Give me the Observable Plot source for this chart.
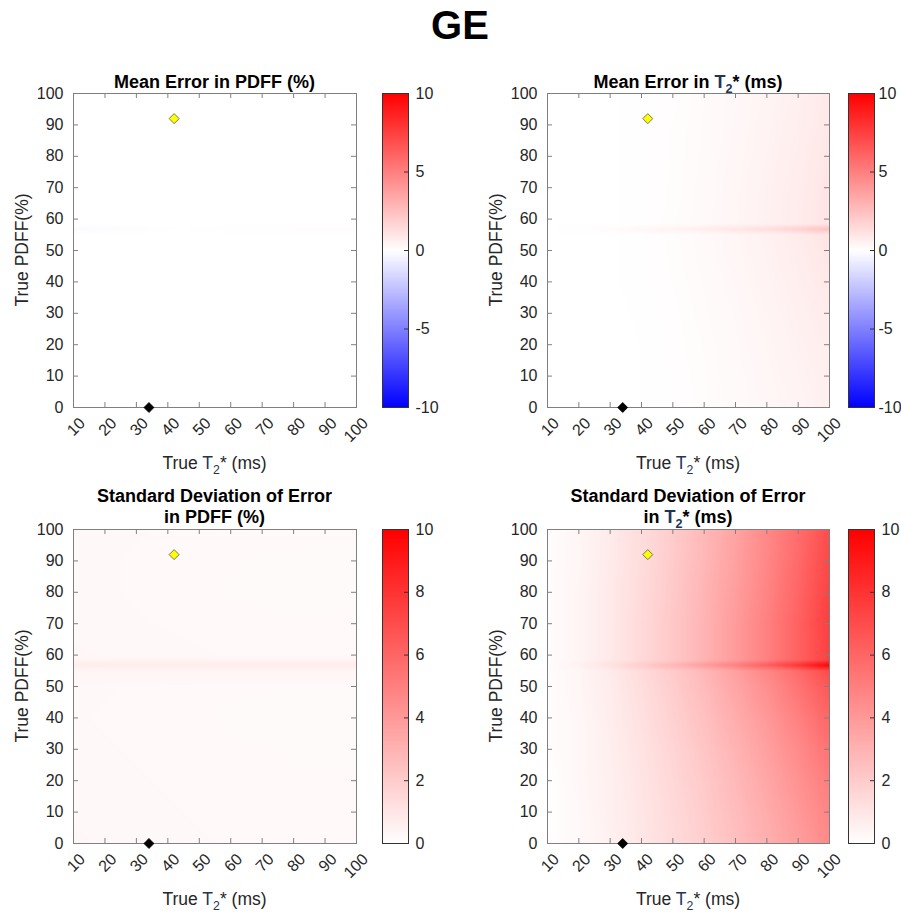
<!DOCTYPE html>
<html><head><meta charset="utf-8">
<script src="https://cdn.jsdelivr.net/npm/d3@7"></script>
<script src="https://cdn.jsdelivr.net/npm/@observablehq/plot@0.6"></script>
<style>
body{margin:0;background:#fff;}
#root{position:relative;width:901px;height:913px;overflow:hidden;font-family:"Liberation Sans",Arial,Helvetica,sans-serif;}
</style></head><body><div id="root"></div>
<script>
// ---- data ----
const t2Values = [10, 20, 30, 40, 50, 60, 70, 80, 90, 100];           // True T2* (ms), columns
const pdffRows = [0, 10, 20, 30, 40, 50, 55, 56.8, 58.5, 60, 70, 80, 90, 100]; // True PDFF (%), rows
const xTicks = [10, 20, 30, 40, 50, 60, 70, 80, 90, 100];
const yTicks = [0, 10, 20, 30, 40, 50, 60, 70, 80, 90, 100];
const meanTicks = [-10, -5, 0, 5, 10];
const sdTicks = [0, 2, 4, 6, 8, 10];

// Mean error in PDFF (%)
const meanPdffError = [
  [0,0,0,0,0,0,0,0,0,0],
  [0,0,0,0,0,0,0,0,0,0],
  [0,0,0,0,0,0,0,0,0,0],
  [0,0,0,0,0,0,0,0,0,0],
  [0,0,0,0,0,0,0,0,0,0],
  [0,0,0,0,0,0,0,0,0,0],
  [0,0,0,0,0,0,0,0,0,0],
  [-0.15,-0.12,-0.08,-0.03,0.03,0.06,0.08,0.1,0.12,0.14],
  [0,0,0,0,0,0,0,0,0,0],
  [0,0,0,0,0,0,0,0,0,0],
  [0,0,0,0,0,0,0,0,0,0],
  [0,0,0,0,0,0,0,0,0,0],
  [0,0,0,0,0,0,0,0,0,0],
  [0,0,0,0,0,0,0,0,0,0]
];
// Mean error in T2* (ms)
const meanT2Error = [
  [0,0,0,0.02,0.06,0.12,0.2,0.31,0.44,0.6],
  [0,0,0,0.02,0.06,0.13,0.22,0.34,0.48,0.64],
  [0,0,0,0.02,0.07,0.14,0.24,0.37,0.53,0.7],
  [0,0,0,0.03,0.08,0.16,0.26,0.41,0.58,0.77],
  [0,0,0.01,0.04,0.1,0.18,0.3,0.46,0.65,0.86],
  [0,0,0.01,0.05,0.11,0.2,0.34,0.5,0.72,0.98],
  [0,0,0.01,0.05,0.12,0.22,0.36,0.54,0.77,1.05],
  [0,0.05,0.15,0.3,0.48,0.7,0.97,1.3,1.75,2.4],
  [0,0,0.01,0.05,0.12,0.22,0.36,0.54,0.77,1.05],
  [0,0,0.01,0.05,0.12,0.22,0.36,0.54,0.77,1.05],
  [0,0,0.01,0.05,0.11,0.2,0.35,0.53,0.74,1.02],
  [0,0,0.01,0.04,0.1,0.19,0.32,0.49,0.7,0.96],
  [0,0,0.01,0.04,0.1,0.18,0.3,0.46,0.65,0.9],
  [0,0,0.01,0.04,0.08,0.17,0.28,0.43,0.6,0.84]
];
// Standard deviation of error in PDFF (%)
const sdPdffError = [
  [0.3,0.29,0.28,0.27,0.26,0.25,0.25,0.24,0.24,0.24],
  [0.29,0.28,0.27,0.26,0.25,0.24,0.24,0.23,0.23,0.23],
  [0.28,0.27,0.26,0.25,0.24,0.23,0.23,0.22,0.22,0.22],
  [0.27,0.26,0.25,0.24,0.23,0.22,0.22,0.21,0.21,0.21],
  [0.26,0.25,0.24,0.23,0.22,0.21,0.2,0.19,0.19,0.19],
  [0.27,0.26,0.25,0.24,0.23,0.22,0.22,0.21,0.21,0.21],
  [0.38,0.38,0.38,0.38,0.38,0.38,0.38,0.38,0.38,0.38],
  [0.7,0.72,0.74,0.75,0.75,0.75,0.75,0.75,0.75,0.75],
  [0.38,0.38,0.38,0.38,0.38,0.38,0.38,0.38,0.38,0.38],
  [0.3,0.29,0.28,0.27,0.26,0.25,0.25,0.24,0.24,0.24],
  [0.28,0.27,0.26,0.25,0.24,0.23,0.23,0.22,0.22,0.22],
  [0.27,0.26,0.25,0.24,0.22,0.21,0.2,0.19,0.19,0.19],
  [0.27,0.26,0.25,0.24,0.23,0.22,0.21,0.21,0.2,0.2],
  [0.28,0.27,0.26,0.25,0.24,0.24,0.23,0.23,0.23,0.23]
];
// Standard deviation of error in T2* (ms)
const sdT2Error = [
  [0.05,0.25,0.55,0.95,1.4,1.9,2.5,3.1,3.8,4.6],
  [0.05,0.25,0.6,1.0,1.45,2.0,2.6,3.25,4.0,4.8],
  [0.05,0.3,0.6,1.05,1.55,2.1,2.75,3.45,4.25,5.1],
  [0.1,0.3,0.65,1.1,1.65,2.25,2.95,3.7,4.55,5.5],
  [0.1,0.3,0.7,1.2,1.8,2.45,3.2,4.0,4.95,6.0],
  [0.1,0.35,0.75,1.3,1.95,2.65,3.5,4.4,5.45,6.6],
  [0.1,0.35,0.8,1.4,2.05,2.8,3.7,4.7,5.8,7.1],
  [0.1,0.5,1.15,1.95,2.85,3.85,5.0,6.3,7.9,9.8],
  [0.1,0.4,0.85,1.45,2.15,2.95,3.9,4.95,6.15,7.5],
  [0.1,0.4,0.85,1.45,2.15,2.95,3.9,4.95,6.15,7.5],
  [0.1,0.4,0.85,1.45,2.15,2.95,3.9,4.95,6.15,7.6],
  [0.1,0.4,0.85,1.4,2.1,2.9,3.8,4.8,6.0,7.4],
  [0.1,0.35,0.8,1.35,2.05,2.8,3.7,4.7,5.85,7.2],
  [0.1,0.35,0.8,1.35,2.0,2.75,3.6,4.6,5.7,7.0]
];
// diamond markers
const markerNames = ["yellow", "black"];
const markerT2 = [42, 34];
const markerPdff = [92, 0];

// ---- drawing ----
const root = document.getElementById("root");
const fontFamily = '"Liberation Sans", Arial, Helvetica, sans-serif';
const axisGrey = "#808080";
const textCol = "#262626";
const navy = "#1f3556";

const meanColor = {type: "linear", domain: [-10, 0, 10], range: ["#0000ff", "#ffffff", "#ff0000"], interpolate: "rgb"};
const sdColor = {type: "linear", domain: [0, 10], range: ["#ffffff", "#ff0000"], interpolate: "rgb"};

const markers = markerNames.map((name, i) => ({name, t2: markerT2[i], pdff: markerPdff[i]}));

function place(node, left, top) {
  node.style.position = "absolute";
  node.style.left = left + "px";
  node.style.top = top + "px";
  root.appendChild(node);
}

function heatPanel(grid, colorOpts, plotLeft, plotTop, W, H) {
  const ML = 60, MR = 20, MT = 10, MB = 60;
  const pts = pdffRows.flatMap((p, i) => t2Values.map((t, j) => ({t2: t, pdff: p, v: grid[i][j]})));
  const svg = Plot.plot({
    width: ML + W + MR, height: MT + H + MB,
    marginLeft: ML, marginRight: MR, marginTop: MT, marginBottom: MB,
    style: {fontFamily, fontSize: "16px", color: textCol, background: "transparent", overflow: "visible"},
    x: {domain: [10, 100], label: null},
    y: {domain: [0, 100], label: null},
    color: colorOpts,
    marks: [
      Plot.raster(pts, {x: "t2", y: "pdff", fill: "v", interpolate: "barycentric", x1: 10, x2: 100, y1: 0, y2: 100}),
      Plot.tickX(xTicks, {x: d => d, insetTop: H - 5, stroke: axisGrey}),
      Plot.tickX(xTicks, {x: d => d, insetBottom: H - 5, stroke: axisGrey}),
      Plot.tickY(yTicks, {y: d => d, insetRight: W - 5, stroke: axisGrey}),
      Plot.tickY(yTicks, {y: d => d, insetLeft: W - 5, stroke: axisGrey}),
      Plot.frame({stroke: axisGrey}),
      Plot.axisX({ticks: xTicks, tickSize: 0, tickRotate: -45, tickPadding: 13, dx: 9, tickFormat: d => String(d), label: null}),
      Plot.axisY({ticks: yTicks, tickSize: 0, tickPadding: 10, tickFormat: d => String(d), label: null}),
      Plot.dot(markers, {x: "t2", y: "pdff", symbol: "diamond2", r: 4.5,
        fill: d => d.name === "yellow" ? "#ffff00" : "#000000",
        stroke: d => d.name === "yellow" ? "#555555" : "#000000", strokeWidth: 0.8})
    ]
  });
  place(svg, plotLeft - ML, plotTop - MT);
}

function colorbar(colorOpts, domain, ticks, left, top, H, pad) {
  const W = 26, ML = 1, MR = 45, MT = 10, MB = 10;
  const svg = Plot.plot({
    width: ML + W + MR, height: MT + H + MB,
    marginLeft: ML, marginRight: MR, marginTop: MT, marginBottom: MB,
    style: {fontFamily, fontSize: "16px", color: textCol, background: "transparent", overflow: "visible"},
    x: {domain: [0, 1], axis: null},
    y: {domain, label: null},
    color: colorOpts,
    marks: [
      Plot.raster({fill: (x, y) => y, x1: 0, x2: 1, y1: domain[0], y2: domain[1]}),
      Plot.tickY(ticks, {y: d => d, insetLeft: W - 4, stroke: "#333"}),
      Plot.frame({stroke: "#333"}),
      Plot.axisY({anchor: "right", ticks, tickSize: 0, tickPadding: pad, tickFormat: d => String(d), label: null})
    ]
  });
  place(svg, left - ML, top - MT);
}

const H = 314;
const rows = [93, 529];
heatPanel(meanPdffError, meanColor, 73, rows[0], 283, H);
colorbar(meanColor, [-10, 10], meanTicks, 382, rows[0], H, 7);
heatPanel(meanT2Error, meanColor, 547, rows[0], 282, H);
colorbar(meanColor, [-10, 10], meanTicks, 848, rows[0], H, 4);
heatPanel(sdPdffError, sdColor, 73, rows[1], 283, H);
colorbar(sdColor, [0, 10], sdTicks, 382, rows[1], H, 7);
heatPanel(sdT2Error, sdColor, 547, rows[1], 282, H);
colorbar(sdColor, [0, 10], sdTicks, 848, rows[1], H, 7);

// ---- text overlay ----
const ov = d3.select(root).append("svg")
  .attr("width", 901).attr("height", 913)
  .style("position", "absolute").style("left", "0px").style("top", "0px")
  .style("pointer-events", "none")
  .style("font-family", fontFamily);

ov.append("text").attr("x", 460).attr("y", 39).attr("text-anchor", "middle")
  .attr("font-size", 40).attr("font-weight", "bold").attr("fill", "#000").text("GE");

function t2Text(sel, size, color) {
  sel.append("tspan").attr("fill", navy).text("T");
  sel.append("tspan").attr("fill", navy).attr("font-size", size * 0.7).attr("dy", size * 0.28).text("2");
  sel.append("tspan").attr("dy", -size * 0.28).attr("fill", color).text("*");
}

function title(cx, y, parts) {
  const t = ov.append("text").attr("x", cx).attr("y", y).attr("text-anchor", "middle")
    .attr("font-size", 18).attr("font-weight", "bold").attr("fill", "#000");
  parts.forEach(p => p === "T2" ? t2Text(t, 18, "#000") : t.append("tspan").text(p));
}
title(214.5, 88, ["Mean Error in PDFF (%)"]);
title(688, 88, ["Mean Error in ", "T2", " (ms)"]);
title(214.5, 502, ["Standard Deviation of Error"]);
title(214.5, 523, ["in PDFF (%)"]);
title(688, 502, ["Standard Deviation of Error"]);
title(688, 523, ["in ", "T2", " (ms)"]);

function xLabel(cx, y) {
  const t = ov.append("text").attr("x", cx).attr("y", y).attr("text-anchor", "middle")
    .attr("font-size", 17.5).attr("fill", textCol);
  t.append("tspan").text("True ");
  t2Text(t, 17.5, textCol);
  t.append("tspan").text(" (ms)");
}
xLabel(214.5, 469); xLabel(688, 469); xLabel(214.5, 905); xLabel(688, 905);

function yLabel(x, cy) {
  ov.append("text").attr("transform", `translate(${x},${cy}) rotate(-90)`).attr("text-anchor", "middle")
    .attr("font-size", 17.5).attr("fill", textCol).text("True PDFF(%)");
}
yLabel(28, 250); yLabel(502, 250); yLabel(28, 686); yLabel(502, 686);
</script></body></html>
